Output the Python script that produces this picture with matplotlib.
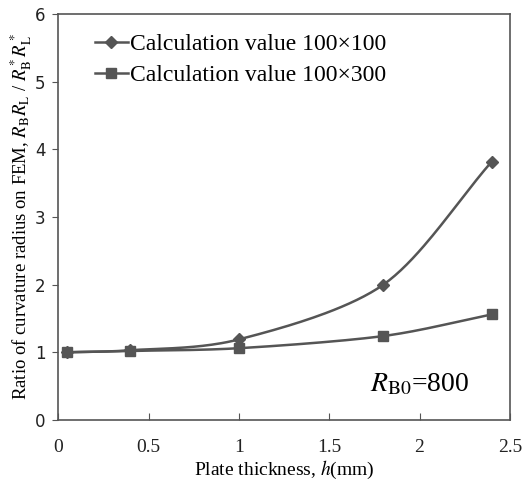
import numpy as np
import matplotlib
matplotlib.use("Agg")
import matplotlib.pyplot as plt
from matplotlib.font_manager import FontProperties

plt.rcParams["mathtext.fontset"] = "stix"

# data
thickness = [0.05, 0.4, 1.0, 1.8, 2.4]
ratio_100x100 = [1.00, 1.03, 1.19, 2.00, 3.82]
ratio_100x300 = [1.00, 1.02, 1.06, 1.24, 1.56]
labels = ["Calculation value 100×100", "Calculation value 100×300"]
x_ticks = [0, 0.5, 1, 1.5, 2, 2.5]
x_tick_labels = ["0", "0.5", "1", "1.5", "2", "2.5"]
y_ticks = [0, 1, 2, 3, 4, 5, 6]


def smooth(xs, ys, n=40):
    """Catmull-Rom style smoothing, like Excel's smoothed line."""
    xs = np.asarray(xs, float)
    ys = np.asarray(ys, float)
    px = np.concatenate([[2 * xs[0] - xs[1]], xs, [2 * xs[-1] - xs[-2]]])
    py = np.concatenate([[2 * ys[0] - ys[1]], ys, [2 * ys[-1] - ys[-2]]])
    out_x, out_y = [], []
    t = np.linspace(0, 1, n)
    for i in range(1, len(px) - 2):
        for p, out in ((px, out_x), (py, out_y)):
            p0, p1, p2, p3 = p[i - 1], p[i], p[i + 1], p[i + 2]
            m1 = (p2 - p0) / 2 * 0.9
            m2 = (p3 - p1) / 2 * 0.9
            h00 = 2 * t**3 - 3 * t**2 + 1
            h10 = t**3 - 2 * t**2 + t
            h01 = -2 * t**3 + 3 * t**2
            h11 = t**3 - t**2
            out.extend(h00 * p1 + h10 * m1 + h01 * p2 + h11 * m2)
    return np.array(out_x), np.array(out_y)


serif = "Liberation Serif"
col = "#555555"

fig = plt.figure(figsize=(5.24, 4.86), dpi=100)
ax = fig.add_axes([0.111, 0.136, 0.862, 0.835])

for ys, mk, ms, lab in [(ratio_100x100, "D", 6.5, labels[0]),
                        (ratio_100x300, "s", 6.5, labels[1])]:
    sx, sy = smooth(thickness, ys)
    ax.plot(sx, sy, color=col, lw=1.8)
    ax.plot(thickness, ys, linestyle="none", marker=mk, ms=ms, color=col)
    ax.plot([], [], color=col, lw=1.8, marker=mk, ms=ms, label=lab)

ax.set_xlim(0, 2.5)
ax.set_ylim(0, 6)
ax.set_xticks(x_ticks)
ax.set_xticklabels(x_tick_labels, family=serif, fontsize=14, color="#222222")
ax.set_yticks(y_ticks)
ax.set_yticklabels([str(v) for v in y_ticks], fontsize=12, color="#222222")
ax.tick_params(axis="x", direction="in", length=5, pad=14, color=col)
ax.tick_params(axis="y", direction="out", length=4, pad=5, color=col)
for s in ax.spines.values():
    s.set_color(col)
    s.set_linewidth(1.2)

ax.set_xlabel("Plate thickness, $h$(mm)", family=serif, fontsize=14, labelpad=2)
ax.set_ylabel(r"Ratio of curvature radius on FEM, $R_\mathrm{B}R_\mathrm{L}$ / $R_\mathrm{B}^*R_\mathrm{L}^*$",
              family=serif, fontsize=13.5, labelpad=1)

ax.text(2.0, 0.42, r"$R_\mathrm{B0}$=800", family=serif, fontsize=20, ha="center")

leg_font = FontProperties(family=serif, size=17)
ax.legend(loc="upper left", frameon=False, prop=leg_font,
          handlelength=1.4, handletextpad=0.1, labelspacing=0.4,
          borderaxespad=0.0, bbox_to_anchor=(0.06, 0.975))

fig.savefig("out.png", dpi=100)
